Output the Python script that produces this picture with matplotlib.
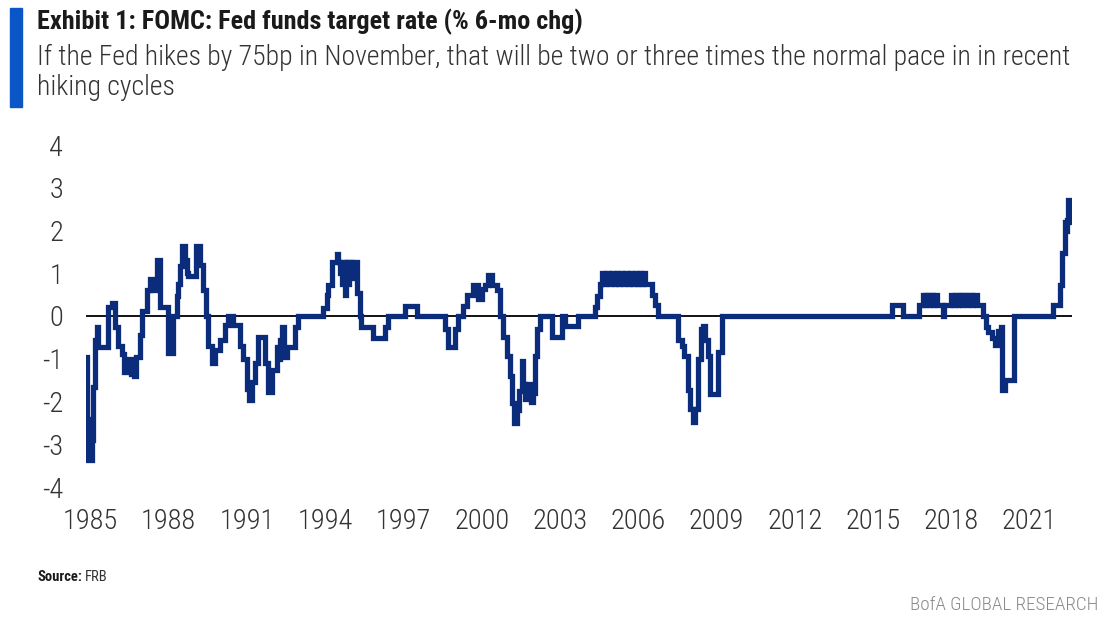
import matplotlib

matplotlib.use("Agg")
import matplotlib.pyplot as plt
from matplotlib.patches import Rectangle

# Fed funds target rate, 6-month change (%)
DATES = [
    1984.854, 1984.885, 1984.923, 1985.046, 1985.107, 1985.172, 1985.238, 1985.287,
    1985.671, 1985.824, 1985.939, 1986.054, 1986.196, 1986.304, 1986.457, 1986.553,
    1986.656, 1986.764, 1986.898, 1986.963, 1987.155, 1987.281, 1987.377, 1987.550,
    1987.665, 1987.971, 1988.163, 1988.305, 1988.355, 1988.432, 1988.497, 1988.623,
    1988.689, 1988.738, 1989.045, 1989.198, 1989.313, 1989.429, 1989.505, 1989.647,
    1989.774, 1989.965, 1990.157, 1990.272, 1990.464, 1990.732, 1990.847, 1990.989,
    1991.077, 1991.181, 1991.307, 1991.422, 1991.614, 1991.691, 1991.806, 1991.948,
    1992.139, 1992.189, 1992.266, 1992.343, 1992.419, 1992.523, 1992.841, 1992.956,
    1993.926, 1994.057, 1994.106, 1994.248, 1994.440, 1994.490, 1994.567, 1994.643,
    1994.682, 1994.758, 1994.797, 1994.873, 1994.931, 1995.027, 1995.065, 1995.207,
    1995.333, 1995.372, 1995.843, 1996.292, 1996.419, 1997.059, 1997.507, 1998.593,
    1998.708, 1998.976, 1999.091, 1999.294, 1999.425, 1999.678, 1999.869, 2000.000,
    2000.126, 2000.253, 2000.383, 2000.575, 2000.702, 2000.828, 2000.958, 2001.085,
    2001.150, 2001.238, 2001.342, 2001.441, 2001.534, 2001.595, 2001.660, 2001.787,
    2001.879, 2001.978, 2002.044, 2002.109, 2002.235, 2002.684, 2003.067, 2003.194,
    2003.704, 2004.344, 2004.409, 2004.536, 2004.620, 2004.700, 2004.780, 2004.880,
    2004.960, 2005.060, 2005.140, 2005.240, 2005.320, 2005.420, 2005.500, 2005.600,
    2005.680, 2005.780, 2005.860, 2005.960, 2006.040, 2006.120, 2006.200, 2006.261,
    2006.518, 2006.644, 2006.771, 2007.538, 2007.668, 2007.757, 2007.921, 2007.987,
    2008.113, 2008.179, 2008.305, 2008.397, 2008.497, 2008.562, 2008.689, 2008.754,
    2009.072, 2009.202, 2015.721, 2016.166, 2016.779, 2016.933, 2017.000, 2017.050,
    2017.150, 2017.200, 2017.300, 2017.350, 2017.446, 2017.680, 2017.740, 2017.983,
    2018.080, 2018.130, 2018.250, 2018.300, 2018.420, 2018.470, 2018.600, 2018.650,
    2018.780, 2018.830, 2018.980, 2019.233, 2019.337, 2019.425, 2019.555, 2019.682,
    2019.808, 2019.900, 2019.938, 2020.065, 2020.410, 2021.917, 2022.174, 2022.239,
    2022.366, 2022.400, 2022.431, 2022.492, 2022.520, 2022.557,
]
VALUES = [
    -0.95, -2.40, -3.36, -2.90, -1.65, -0.56, -0.25, -0.72,
    0.22, 0.30, -0.25, -0.70, -0.90, -1.30, -1.00, -1.35,
    -1.40, -0.95, -0.45, 0.12, 0.60, 0.87, 0.60, 1.30,
    0.20, -0.86, 0.00, 0.47, 0.74, 1.17, 1.63, 1.32,
    1.00, 0.94, 1.63, 1.20, 0.60, 0.00, -0.70, -1.10,
    -0.80, -0.55, -0.20, 0.00, -0.20, -0.70, -1.00, -1.70,
    -1.97, -1.55, -1.10, -0.50, -0.50, -1.10, -1.77, -1.26,
    -0.72, -1.00, -0.55, -0.25, -0.95, -0.72, -0.25, 0.00,
    0.19, 0.49, 0.72, 1.26, 1.45, 1.26, 1.00, 0.75,
    1.26, 0.50, 1.26, 0.75, 1.26, 0.90, 1.26, 0.53,
    0.00, -0.25, -0.52, -0.25, 0.00, 0.23, 0.00, -0.30,
    -0.72, -0.30, 0.00, 0.23, 0.49, 0.73, 0.40, 0.62,
    0.73, 0.97, 0.73, 0.60, 0.00, -0.50, -0.93, -1.40,
    -2.03, -2.50, -2.20, -1.75, -1.05, -1.60, -1.95, -1.60,
    -2.00, -1.80, -0.93, -0.30, 0.00, -0.50, 0.00, -0.24,
    0.00, 0.20, 0.47, 0.75, 1.00, 0.75, 1.00, 0.75,
    1.00, 0.75, 1.00, 0.75, 1.00, 0.75, 1.00, 0.75,
    1.00, 0.75, 1.00, 0.75, 1.00, 0.75, 1.00, 0.75,
    0.50, 0.25, 0.00, -0.55, -0.70, -0.93, -1.72, -2.18,
    -2.49, -2.18, -1.01, -0.31, -0.23, -0.55, -0.93, -1.83,
    -0.85, 0.00, 0.25, 0.00, 0.25, 0.50, 0.25, 0.50,
    0.25, 0.50, 0.25, 0.50, 0.25, 0.00, 0.25, 0.50,
    0.25, 0.50, 0.25, 0.50, 0.25, 0.50, 0.25, 0.50,
    0.25, 0.50, 0.25, 0.00, -0.25, -0.37, -0.52, -0.68,
    -0.35, -0.25, -1.73, -1.50, 0.00, 0.25, 0.72, 1.47,
    2.21, 2.00, 2.25, 2.71, 2.20, 2.20,
]

YEAR_TICKS = list(range(1985, 2022, 3))
Y_TICKS = [-4, -3, -2, -1, 0, 1, 2, 3, 4]

TITLE = "Exhibit 1: FOMC: Fed funds target rate (% 6-mo chg)"
SUBTITLE = ("If the Fed hikes by 75bp in November, that will be two or three times the normal pace in in recent\n"
            "hiking cycles")

NARROW = ["Roboto Condensed", "Fira Sans Condensed", "Sofia Sans Condensed", "DejaVu Sans"]
LINE_COLOR = "#0b2b7b"
TEXT_COLOR = "#333333"

plt.rcParams["axes.unicode_minus"] = False

W, H = 1112, 625
fig = plt.figure(figsize=(W / 100, H / 100), dpi=100)
fig.patch.set_facecolor("white")

# blue accent bar next to the header
fig.patches.append(Rectangle((10 / W, 1 - 107 / H), 12 / W, 99 / H,
                             transform=fig.transFigure, color="#0a56c6"))
fig.text(37 / W, 1 - 9 / H, TITLE, family=NARROW, weight="bold",
         fontsize=18.9, color="#1a1a1a", va="top")
fig.text(37 / W, 1 - 44 / H, SUBTITLE, family=NARROW, weight="light", fontsize=20,
         color=TEXT_COLOR, va="top", linespacing=1.12)

ax = fig.add_axes([86 / W, 1 - 487 / H, (1072 - 86) / W, (487 - 145) / H])
ax.plot(DATES, VALUES, drawstyle="steps-post", color=LINE_COLOR, lw=3.8,
        solid_joinstyle="miter", zorder=3)
ax.axhline(0, color="black", lw=1.3, zorder=2)

ax.set_xlim(1984.83, 2022.63)
ax.set_ylim(-4, 4)
ax.set_xticks(YEAR_TICKS)
ax.set_yticks(Y_TICKS)
for s in ax.spines.values():
    s.set_visible(False)
ax.tick_params(length=0, labelsize=20.5, colors=TEXT_COLOR)
ax.tick_params(axis="x", pad=15)
ax.tick_params(axis="y", pad=16.5)
for lab in ax.get_xticklabels() + ax.get_yticklabels():
    lab.set_family(NARROW)
    lab.set_weight("light")

fig.text(37 / W, 1 - 577 / H, "Source:", family=NARROW, weight="bold",
         fontsize=10.5, color="#1a1a1a", va="center")
fig.text(85 / W, 1 - 577 / H, "FRB", family=NARROW, fontsize=10.5,
         color=TEXT_COLOR, va="center")
fig.text(1098 / W, 1 - 605 / H, "BofA GLOBAL RESEARCH", family=NARROW, weight="light",
         fontsize=13.8, color="#8a8a8a", va="center", ha="right")

fig.savefig("out.png", dpi=100, facecolor="white")
